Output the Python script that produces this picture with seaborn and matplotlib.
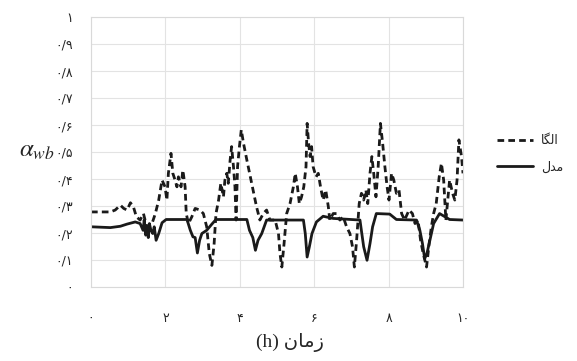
import matplotlib
matplotlib.use("Agg")
import matplotlib.pyplot as plt
import seaborn as sns
import pandas as pd

# ---------------- data ----------------
model_x = [0.00, 0.52, 0.79, 0.97, 1.19, 1.32, 1.40, 1.43, 1.47, 1.50, 1.54, 1.57, 1.61,
           1.66, 1.70, 1.75, 1.82, 1.91, 2.02, 2.58, 2.67, 2.74, 2.80, 2.86, 2.92, 2.98,
           3.11, 3.25, 3.36, 4.19, 4.26, 4.35, 4.42, 4.49, 4.59, 4.72, 5.71, 5.76, 5.81,
           5.87, 5.94, 6.06, 6.24, 6.51, 7.23, 7.28, 7.33, 7.42, 7.50, 7.57, 7.67, 8.03,
           8.21, 8.75, 8.84, 8.91, 8.97, 9.03, 9.11, 9.21, 9.37, 9.64, 10.0]
model_y = [0.223, 0.220, 0.225, 0.233, 0.241, 0.235, 0.210, 0.248, 0.192, 0.223, 0.183,
           0.235, 0.210, 0.198, 0.223, 0.173, 0.198, 0.238, 0.250, 0.250, 0.210, 0.186,
           0.183, 0.126, 0.173, 0.198, 0.210, 0.233, 0.250, 0.250, 0.210, 0.183, 0.136,
           0.173, 0.198, 0.248, 0.248, 0.198, 0.111, 0.149, 0.198, 0.241, 0.262, 0.254,
           0.248, 0.198, 0.149, 0.099, 0.161, 0.223, 0.272, 0.270, 0.250, 0.248, 0.210,
           0.161, 0.105, 0.124, 0.173, 0.235, 0.272, 0.250, 0.248]

elga_x = [0.00, 0.52, 0.65, 0.79, 0.88, 0.97, 1.06, 1.14, 1.22, 1.32, 1.41, 1.50, 1.64,
          1.73, 1.82, 1.91, 1.99, 2.04, 2.08, 2.15, 2.20, 2.26, 2.31, 2.35, 2.42, 2.47,
          2.53, 2.56, 2.62, 2.71, 2.80, 2.93, 3.02, 3.11, 3.18, 3.25, 3.31, 3.36, 3.43,
          3.49, 3.56, 3.60, 3.65, 3.69, 3.74, 3.78, 3.83, 3.87, 3.90, 3.94, 3.99, 4.04,
          4.10, 4.19, 4.32, 4.45, 4.54, 4.63, 4.72, 4.81, 4.95, 5.04, 5.08, 5.13, 5.19,
          5.26, 5.35, 5.44, 5.49, 5.55, 5.60, 5.66, 5.72, 5.78, 5.81, 5.85, 5.89, 5.93,
          5.97, 6.05, 6.11, 6.17, 6.24, 6.31, 6.38, 6.42, 6.51, 6.60, 6.69, 6.78, 6.87,
          6.96, 7.03, 7.08, 7.14, 7.21, 7.27, 7.33, 7.39, 7.44, 7.50, 7.55, 7.60, 7.66,
          7.72, 7.78, 7.84, 7.90, 7.96, 8.01, 8.08, 8.14, 8.21, 8.28, 8.35, 8.43, 8.55,
          8.64, 8.71, 8.79, 8.86, 8.93, 9.02, 9.09, 9.15, 9.21, 9.28, 9.36, 9.42, 9.48,
          9.54, 9.59, 9.64, 9.72, 9.78, 9.84, 9.89, 9.96, 10.0]
elga_y = [0.278, 0.278, 0.285, 0.303, 0.291, 0.285, 0.312, 0.297, 0.260, 0.248, 0.272,
          0.223, 0.235, 0.272, 0.322, 0.396, 0.371, 0.322, 0.421, 0.495, 0.421, 0.396,
          0.371, 0.408, 0.371, 0.433, 0.371, 0.272, 0.235, 0.260, 0.291, 0.285, 0.272,
          0.223, 0.124, 0.080, 0.161, 0.272, 0.322, 0.384, 0.334, 0.396, 0.421, 0.384,
          0.470, 0.520, 0.446, 0.371, 0.248, 0.446, 0.520, 0.582, 0.532, 0.470, 0.384,
          0.297, 0.248, 0.272, 0.285, 0.248, 0.248, 0.198, 0.124, 0.074, 0.161, 0.272,
          0.309, 0.371, 0.421, 0.371, 0.309, 0.334, 0.371, 0.446, 0.606, 0.532, 0.483,
          0.520, 0.446, 0.408, 0.421, 0.371, 0.322, 0.359, 0.297, 0.248, 0.272, 0.272,
          0.248, 0.260, 0.223, 0.198, 0.149, 0.074, 0.173, 0.309, 0.347, 0.322, 0.359,
          0.309, 0.421, 0.483, 0.421, 0.334, 0.446, 0.606, 0.532, 0.446, 0.371, 0.322,
          0.421, 0.396, 0.347, 0.359, 0.272, 0.248, 0.285, 0.272, 0.235, 0.248, 0.173,
          0.124, 0.074, 0.161, 0.223, 0.272, 0.309, 0.408, 0.458, 0.396, 0.248, 0.322,
          0.396, 0.347, 0.322, 0.396, 0.545, 0.483, 0.421]

x_ticks = [0, 2, 4, 6, 8, 10]
x_tick_labels = ["۰", "۲", "۴", "۶", "۸", "۱۰"]
y_ticks = [0, 0.1, 0.2, 0.3, 0.4, 0.5, 0.6, 0.7, 0.8, 0.9, 1.0]
y_tick_labels = ["۰", "۰/۱", "۰/۲", "۰/۳", "۰/۴", "۰/۵", "۰/۶", "۰/۷", "۰/۸", "۰/۹", "۱"]

# Arabic-script labels in visual (shaped, left-to-right) order, since matplotlib
# does no bidi/shaping:  "الگا", "مدل", "زمان"
label_elga = "\uFE8E\uFB95\uFEDF\uFE8D"
label_model = "\uFEDD\uFEAA\uFEE3"
label_time = "(h) " + "\uFEE5\uFE8E\uFEE3\uFEAF"

# ---------------- plot ----------------
sns.set_theme(style="white")
plt.rcParams["font.family"] = ["DejaVu Sans"]
plt.rcParams["mathtext.fontset"] = "stix"

fig = plt.figure(figsize=(5.77, 3.61), dpi=100)
ax = fig.add_axes([91 / 577, 1 - 287 / 361, (463 - 91) / 577, (287 - 17) / 361])

df_e = pd.DataFrame({"x": elga_x, "y": elga_y})
df_m = pd.DataFrame({"x": model_x, "y": model_y})

sns.lineplot(data=df_e, x="x", y="y", ax=ax, color="#1a1a1a", lw=2.0,
             estimator=None, sort=False, label=label_elga)
sns.lineplot(data=df_m, x="x", y="y", ax=ax, color="#1a1a1a", lw=2.0,
             estimator=None, sort=False, label=label_model)
ax.lines[0].set_dashes([2.4, 1.5])

ax.set_xlim(0, 10)
ax.set_ylim(0, 1)
ax.set_xticks(x_ticks)
ax.set_xticklabels(x_tick_labels, fontsize=9)
ax.set_yticks(y_ticks)
ax.set_yticklabels(y_tick_labels, fontsize=9)
ax.tick_params(axis="both", length=0)
ax.tick_params(axis="x", pad=18)
ax.tick_params(axis="y", pad=13)
ax.grid(True, color="#e3e3e3", lw=0.8)
for s in ax.spines.values():
    s.set_color("#d9d9d9")
    s.set_linewidth(0.8)
ax.set_xlabel("")
ax.set_ylabel("")

fig.text(290 / 577, 1 - 343 / 361, label_time, ha="center", va="center",
         fontsize=14, family=["Liberation Serif", "DejaVu Sans"])
fig.text(37 / 577, 1 - 150 / 361, r"$\alpha_{wb}$", ha="center", va="center",
         fontsize=18)

leg = ax.legend(loc="upper left", bbox_to_anchor=(497 / 577, 1 - 134 / 361),
                bbox_transform=fig.transFigure, frameon=False, fontsize=9,
                borderpad=0, borderaxespad=0, handlelength=2.9,
                handletextpad=0.6, labelspacing=1.1)

fig.savefig("out.png", dpi=100)
